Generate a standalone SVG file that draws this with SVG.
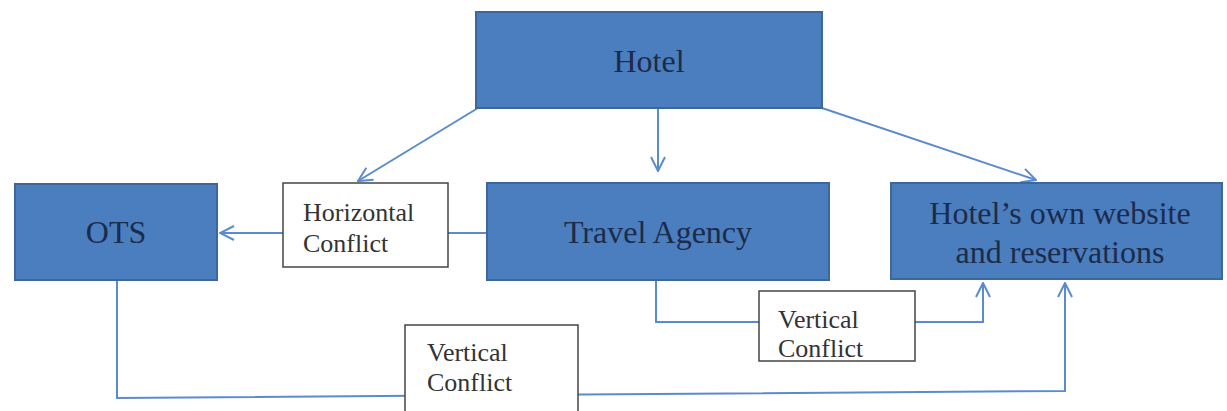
<svg xmlns="http://www.w3.org/2000/svg" width="1227" height="411" viewBox="0 0 1227 411">
<defs>
<style>
.node{fill:#4a7ebf;stroke:#3b679c;stroke-width:2}
.nt{font-family:"Liberation Serif",serif;font-size:32px;fill:#1d2b4a;text-anchor:middle}
.lbl{fill:#fff;stroke:#444;stroke-width:1.5}
.lt{font-family:"Liberation Serif",serif;font-size:26px;fill:#333}
.c{fill:none;stroke:#5b8bcf;stroke-width:2}
</style>
<marker id="ah" viewBox="0 0 12 12" refX="11" refY="6" markerWidth="12" markerHeight="12" markerUnits="userSpaceOnUse" orient="auto">
<path d="M1,1 L11,6 L1,11" fill="none" stroke="#5b8bcf" stroke-width="2"/>
</marker>
<marker id="ahb" viewBox="0 0 16 16" refX="15" refY="8" markerWidth="16" markerHeight="16" markerUnits="userSpaceOnUse" orient="auto">
<path d="M1,1 L15,8 L1,15" fill="none" stroke="#5b8bcf" stroke-width="2"/>
</marker>
</defs>
<rect width="1227" height="411" fill="#fff"/>
<g id="connectors">
<path class="c" d="M478,108 L358,181" marker-end="url(#ahb)"/>
<path class="c" d="M658,108 L658,171" marker-end="url(#ahb)"/>
<path class="c" d="M822,108 L1036,180" marker-end="url(#ahb)"/>
<path class="c" d="M487,233 L220,233" marker-end="url(#ahb)"/>
<path class="c" d="M656,281 L656,322 L983,322 L983,283" marker-end="url(#ahb)"/>
<path class="c" d="M117,281 L117,398 L1065,391 L1065,283" marker-end="url(#ahb)"/>
</g>
<g id="hotel">
<rect class="node" x="476" y="12" width="346" height="96"/>
<text class="nt" x="649" y="72">Hotel</text>
</g>
<g id="ots">
<rect class="node" x="15" y="184" width="202" height="96"/>
<text class="nt" x="116" y="243">OTS</text>
</g>
<g id="travel-agency">
<rect class="node" x="487" y="183" width="342" height="97"/>
<text class="nt" x="658" y="243">Travel Agency</text>
</g>
<g id="hotel-website">
<rect class="node" x="891" y="183" width="331" height="96"/>
<text class="nt" x="1060" y="224">Hotel’s own website</text>
<text class="nt" x="1060" y="263">and reservations</text>
</g>
<g id="horizontal-conflict">
<rect class="lbl" x="283" y="183" width="165" height="84"/>
<text class="lt" x="303" y="221">Horizontal</text>
<text class="lt" x="303" y="252">Conflict</text>
</g>
<g id="vertical-conflict-1">
<rect class="lbl" x="759" y="291" width="156" height="70"/>
<text class="lt" x="778" y="328">Vertical</text>
<text class="lt" x="778" y="357">Conflict</text>
</g>
<g id="vertical-conflict-2">
<rect class="lbl" x="405" y="325" width="173" height="90"/>
<text class="lt" x="427" y="361">Vertical</text>
<text class="lt" x="427" y="391">Conflict</text>
</g>
</svg>
